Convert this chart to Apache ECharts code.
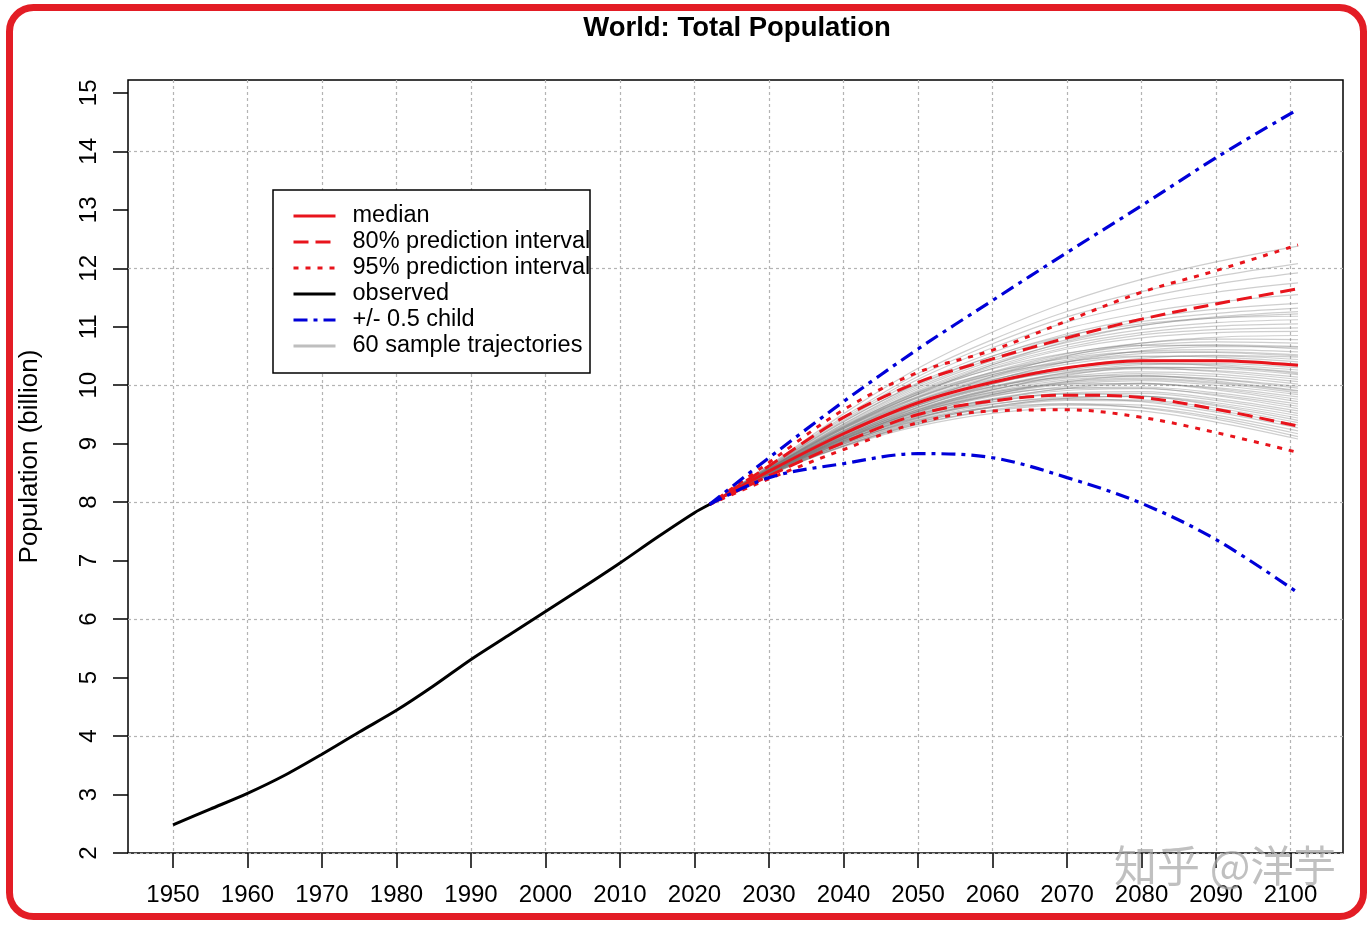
<!DOCTYPE html>
<html><head><meta charset="utf-8">
<script src="https://cdn.jsdelivr.net/npm/echarts@6/dist/echarts.min.js"></script>
<style>html,body{margin:0;padding:0;background:#fff}#chart{width:1369px;height:925px}</style>
</head><body><div id="chart"></div>
<script>
// ---------- data ----------
const observedYears  = [1950,1955,1960,1965,1970,1975,1980,1985,1990,1995,2000,2005,2010,2015,2020,2022];
const observedValues = [2.48,2.75,3.02,3.33,3.69,4.07,4.44,4.86,5.31,5.72,6.13,6.54,6.96,7.40,7.82,7.96];

const projYears  = [2022,2030,2040,2050,2060,2070,2080,2090,2101];
const median     = [7.96,8.53,9.17,9.70,10.05,10.30,10.42,10.42,10.34];
const pi80Upper  = [7.96,8.62,9.45,10.05,10.45,10.81,11.13,11.39,11.65];
const pi80Lower  = [7.96,8.45,9.02,9.50,9.73,9.83,9.79,9.59,9.30];
const pi95Upper  = [7.96,8.68,9.58,10.22,10.60,11.10,11.59,11.96,12.40];
const pi95Lower  = [7.96,8.40,8.90,9.36,9.56,9.58,9.45,9.19,8.85];
const childUpper = [7.96,8.76,9.72,10.62,11.45,12.27,13.07,13.89,14.72];
const childLower = [7.96,8.42,8.66,8.83,8.76,8.42,7.98,7.36,6.45];

const sampleTrajectories = [
  [7.96,8.63,9.51,10.29,10.91,11.42,11.81,12.11,12.38],
  [7.96,8.62,9.46,10.20,10.78,11.26,11.60,11.86,12.08],
  [7.96,8.61,9.43,10.15,10.71,11.17,11.49,11.73,11.92],
  [7.96,8.60,9.40,10.10,10.64,11.08,11.38,11.59,11.75],
  [7.96,8.59,9.37,10.04,10.56,10.97,11.24,11.42,11.55],
  [7.96,8.58,9.33,9.97,10.46,10.84,11.09,11.23,11.32],
  [7.96,8.55,9.25,9.85,10.35,10.75,11.02,11.17,11.26],
  [7.96,8.57,9.31,9.94,10.42,10.78,11.02,11.15,11.22],
  [7.96,8.60,9.38,10.02,10.50,10.85,11.05,11.15,11.18],
  [7.96,8.57,9.29,9.91,10.38,10.73,10.95,11.07,11.12],
  [7.96,8.57,9.28,9.89,10.35,10.69,10.90,11.01,11.05],
  [7.96,8.56,9.27,9.87,10.32,10.65,10.86,10.95,10.98],
  [7.96,8.56,9.26,9.85,10.29,10.62,10.81,10.90,10.92],
  [7.96,8.50,9.15,9.70,10.15,10.50,10.72,10.82,10.85],
  [7.96,8.55,9.23,9.81,10.23,10.54,10.72,10.79,10.78],
  [7.96,8.55,9.22,9.79,10.21,10.51,10.68,10.74,10.72],
  [7.96,8.55,9.21,9.78,10.18,10.48,10.64,10.69,10.66],
  [7.96,8.58,9.30,9.88,10.28,10.55,10.68,10.68,10.62],
  [7.96,8.54,9.20,9.75,10.15,10.43,10.58,10.61,10.57],
  [7.96,8.54,9.19,9.73,10.13,10.40,10.54,10.57,10.52],
  [7.96,8.50,9.10,9.62,10.02,10.30,10.46,10.51,10.48],
  [7.96,8.54,9.18,9.71,10.09,10.36,10.49,10.50,10.44],
  [7.96,8.57,9.26,9.80,10.18,10.40,10.50,10.48,10.40],
  [7.96,8.53,9.16,9.69,10.06,10.31,10.43,10.44,10.36],
  [7.96,8.50,9.08,9.58,9.95,10.22,10.35,10.37,10.30],
  [7.96,8.53,9.15,9.66,10.02,10.26,10.37,10.35,10.26],
  [7.96,8.56,9.22,9.74,10.10,10.30,10.38,10.33,10.22],
  [7.96,8.52,9.13,9.63,9.98,10.21,10.31,10.29,10.18],
  [7.96,8.52,9.13,9.62,9.97,10.19,10.28,10.25,10.14],
  [7.96,8.55,9.20,9.70,10.04,10.24,10.30,10.23,10.10],
  [7.96,8.52,9.11,9.60,9.93,10.15,10.23,10.19,10.06],
  [7.96,8.51,9.11,9.58,9.92,10.12,10.20,10.15,10.02],
  [7.96,8.48,9.04,9.50,9.84,10.06,10.16,10.11,9.98],
  [7.96,8.51,9.09,9.56,9.89,10.09,10.15,10.10,9.95],
  [7.96,8.55,9.18,9.66,9.98,10.14,10.17,10.07,9.91],
  [7.96,8.51,9.08,9.54,9.85,10.04,10.10,10.03,9.87],
  [7.96,8.50,9.07,9.53,9.84,10.02,10.08,10.00,9.84],
  [7.96,8.47,9.00,9.44,9.75,9.95,10.02,9.96,9.80],
  [7.96,8.50,9.06,9.51,9.81,9.98,10.03,9.94,9.76],
  [7.96,8.54,9.12,9.58,9.88,10.02,10.03,9.92,9.72],
  [7.96,8.50,9.05,9.48,9.77,9.94,9.97,9.87,9.68],
  [7.96,8.49,9.04,9.47,9.76,9.91,9.94,9.84,9.64],
  [7.96,8.52,9.10,9.55,9.82,9.95,9.95,9.82,9.60],
  [7.96,8.49,9.03,9.45,9.72,9.87,9.89,9.77,9.56],
  [7.96,8.49,9.02,9.43,9.71,9.85,9.86,9.74,9.52],
  [7.96,8.46,8.96,9.36,9.63,9.78,9.81,9.70,9.48],
  [7.96,8.48,9.01,9.41,9.67,9.80,9.81,9.67,9.44],
  [7.96,8.53,9.08,9.50,9.75,9.85,9.82,9.65,9.40],
  [7.96,8.48,8.99,9.39,9.64,9.76,9.75,9.61,9.36],
  [7.96,8.48,8.99,9.37,9.62,9.74,9.73,9.57,9.32],
  [7.96,8.51,9.05,9.45,9.68,9.77,9.72,9.54,9.27],
  [7.96,8.47,8.97,9.34,9.58,9.68,9.66,9.49,9.22],
  [7.96,8.47,8.96,9.33,9.56,9.66,9.62,9.45,9.17],
  [7.96,8.50,9.02,9.40,9.62,9.68,9.61,9.42,9.12],
  [7.96,8.47,8.95,9.30,9.52,9.61,9.56,9.37,9.08],
  [7.96,8.58,9.28,9.84,10.22,10.46,10.57,10.56,10.50],
  [7.96,8.50,9.12,9.66,10.08,10.40,10.59,10.66,10.65],
  [7.96,8.51,9.09,9.55,9.87,10.06,10.12,10.05,9.90],
  [7.96,8.49,9.07,9.56,9.92,10.17,10.30,10.30,10.20],
  [7.96,8.58,9.34,10.00,10.50,10.88,11.14,11.30,11.40]
];

const xTickValues = [1950,1960,1970,1980,1990,2000,2010,2020,2030,2040,2050,2060,2070,2080,2090,2100];
const yTickValues = [2,3,4,5,6,7,8,9,10,11,12,13,14,15];
const yGridValues = [2,4,6,8,10,12,14];

const legendNames = ['median','80% prediction interval','95% prediction interval','observed','+/- 0.5 child','60 sample trajectories'];

// ---------- chart ----------
const FONT = '"Liberation Sans", Arial, Helvetica, sans-serif';
const RED = '#e8141c', BLUE = '#0000d8';
const pair = (xs, ys) => xs.map((x, i) => [x, ys[i]]);

const series = [];
sampleTrajectories.forEach(tr => {
  series.push({
    name: legendNames[5], type: 'line', data: pair(projYears, tr),
    symbol: 'none', smooth: 0.35, silent: true,
    lineStyle: { color: 'rgba(120,120,120,0.36)', width: 1.2 }
  });
});
function add(name, ys, color, type, width) {
  series.push({
    name, type: 'line', data: pair(projYears, ys), symbol: 'none', smooth: 0.35,
    lineStyle: { color, type, width }, itemStyle: { color }
  });
}
add(legendNames[2], pi95Upper, RED, [5, 7], 3);
add(legendNames[2], pi95Lower, RED, [5, 7], 3);
add(legendNames[1], pi80Upper, RED, [15, 7], 3);
add(legendNames[1], pi80Lower, RED, [15, 7], 3);
add(legendNames[0], median, RED, 'solid', 3);
add(legendNames[4], childUpper, BLUE, [14, 6, 4, 6], 3.2);
add(legendNames[4], childLower, BLUE, [14, 6, 4, 6], 3.2);
series.push({
  name: legendNames[3], type: 'line', data: pair(observedYears, observedValues),
  symbol: 'none', smooth: 0.3, lineStyle: { color: '#000', width: 3 }, itemStyle: { color: '#000' }
});

const chart = echarts.init(document.getElementById('chart'), null, { renderer: 'canvas' });
chart.setOption({
  animation: false,
  backgroundColor: '#fff',
  title: {
    text: 'World: Total Population', left: 732, top: 9, textAlign: 'center',
    textStyle: { fontFamily: FONT, fontSize: 27.5, fontWeight: 'bold', color: '#000' }
  },
  grid: { left: 128, right: 26, top: 80, bottom: 72, show: true, borderColor: '#000', borderWidth: 1.5, backgroundColor: 'transparent' },
  xAxis: {
    type: 'value', min: 1943.96, max: 2107.04,
    axisLine: { show: false },
    axisTick: { show: true, length: 15, customValues: xTickValues, lineStyle: { color: '#000', width: 1.5 } },
    axisLabel: { customValues: xTickValues, formatter: v => String(v), fontFamily: FONT, fontSize: 24, color: '#000', margin: 30 },
    splitLine: { show: true, lineStyle: { color: '#b4b4b4', type: [3, 3], width: 1.2 } }
  },
  yAxis: [{
    type: 'value', min: 2, max: 15.22,
    name: 'Population (billion)', nameLocation: 'middle', nameGap: 85, nameRotate: 90,
    nameTextStyle: { fontFamily: FONT, fontSize: 26, color: '#000', padding: [0, 0, 0, 20] },
    axisLine: { show: false },
    axisTick: { show: true, length: 15, customValues: yTickValues, lineStyle: { color: '#000', width: 1.5 } },
    axisLabel: { customValues: yTickValues, formatter: v => String(v), rotate: 90, fontFamily: FONT, fontSize: 24, color: '#000', margin: 27 },
    splitLine: { show: false }
  }, {
    type: 'value', min: 2, max: 15.22, position: 'left',
    axisLine: { show: false },
    axisTick: { show: false, customValues: yGridValues },
    axisLabel: { show: false },
    splitLine: { show: true, lineStyle: { color: '#b4b4b4', type: [3, 3], width: 1.2 } }
  }],
  legend: {
    orient: 'vertical', left: 273, top: 190, selectedMode: false, z: 10,
    padding: [13, 0, 14, 19], itemWidth: 42, itemHeight: 4, itemGap: 0,
    itemStyle: { opacity: 0 },
    textStyle: { fontFamily: FONT, fontSize: 23.5, lineHeight: 26, color: '#000', padding: [0, 0, 0, 12] },
    data: [
      { name: legendNames[0], lineStyle: { width: 3 } },
      { name: legendNames[1], lineStyle: { width: 3 } },
      { name: legendNames[2], lineStyle: { width: 3 } },
      { name: legendNames[3], lineStyle: { width: 3 } },
      { name: legendNames[4], lineStyle: { width: 3 } },
      { name: legendNames[5], lineStyle: { color: '#bebebe', width: 3 } }
    ]
  },
  graphic: [
    { type: 'rect', z: 8, silent: true, shape: { x: 273, y: 190, width: 317, height: 183 },
      style: { fill: '#fff', stroke: '#000', lineWidth: 1.5 } },
    { type: 'rect', z: 100, silent: true, shape: { x: 9.5, y: 7.5, width: 1354, height: 909, r: 24 },
      style: { fill: 'none', stroke: '#e31d25', lineWidth: 7 } },
    { type: 'text', z: 100, silent: true, left: 1114, top: 844,
      style: { text: '知乎 @洋芋', font: '43px "Noto Sans CJK SC"', fill: 'rgba(165,165,165,0.7)' } }
  ],
  series
});
</script></body></html>
